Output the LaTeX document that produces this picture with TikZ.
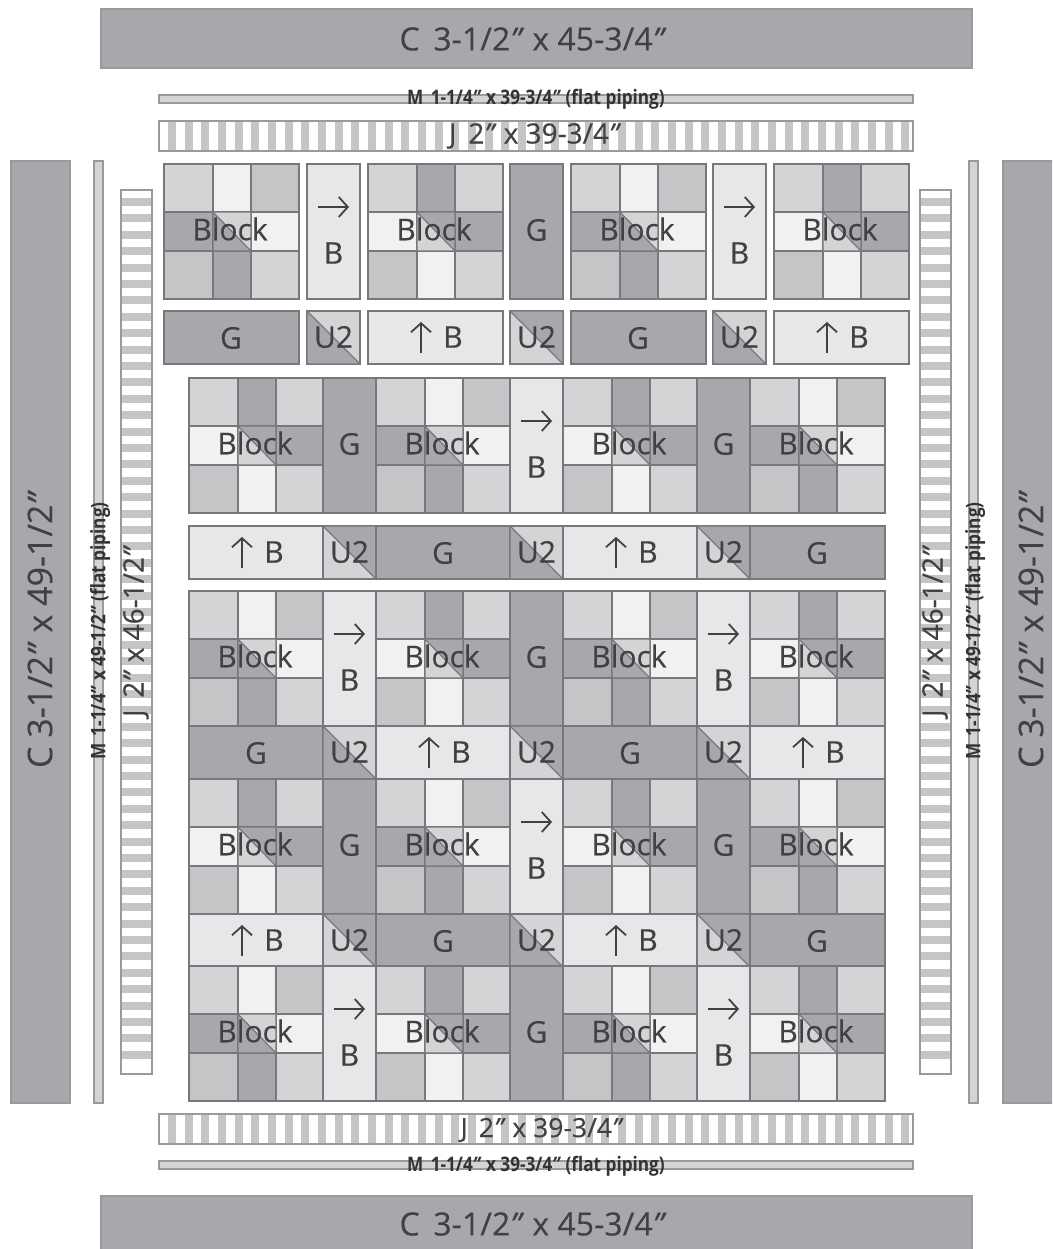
\documentclass[tikz,border=0pt]{standalone}
\usepackage{fontspec}
\setmainfont{Open Sans}
\usetikzlibrary{arrows.meta}
\definecolor{dk}{HTML}{A7A8AB}
\definecolor{md}{HTML}{C4C5C7}
\definecolor{lt}{HTML}{D3D4D6}
\definecolor{wh}{HTML}{F1F1F2}
\definecolor{sh}{HTML}{E6E7E8}
\definecolor{edge}{HTML}{77787B}
\definecolor{ink}{HTML}{414144}
\newcommand{\inch}{\textit{"}}
\newcommand{\thin}[1]{\scalebox{.86}[1]{\bfseries #1}}
\newcommand{\fsize}[1]{\fontsize{#1}{#1}\selectfont\addfontfeature{FakeBold=0.25}}
\tikzset{
  patch/.style={draw=edge, line width=1.1pt},
  rim/.style={draw=edge!75, line width=1.1pt},
  lab/.style={text=ink, inner sep=0pt, font=\fsize{30}},
  slab/.style={text=black!80, inner sep=0pt, font=\fontsize{20}{20}\selectfont},
  arw/.style={-{Straight Barb[length=9pt,width=20pt,line width=1.8pt]}, line width=1.8pt, draw=ink},
  blockA/.pic={
    \foreach \xa/\ya/\xb/\yb/\col in {0/0/49/48/lt,49/0/87/48/wh,87/0/135/48/md,0/48/49/87/dk,
      87/48/135/87/wh,0/87/49/135/md,49/87/87/135/dk,87/87/135/135/lt}
      \draw[patch, fill=\col] (\xa,\ya) rectangle (\xb,\yb);
    \draw[patch, fill=dk] (49,48) -- (87,87) -- (49,87) -- cycle;
    \draw[patch, fill=lt] (49,48) -- (87,87) -- (87,48) -- cycle;
    \node[lab] (lbl) at (66,65) {Block};
  },
  blockB/.pic={
    \foreach \xa/\ya/\xb/\yb/\col in {0/0/49/48/lt,49/0/87/48/dk,87/0/135/48/lt,0/48/49/87/wh,
      87/48/135/87/dk,0/87/49/135/md,49/87/87/135/wh,87/87/135/135/lt}
      \draw[patch, fill=\col] (\xa,\ya) rectangle (\xb,\yb);
    \draw[patch, fill=lt] (49,48) -- (87,87) -- (49,87) -- cycle;
    \draw[patch, fill=dk] (49,48) -- (87,87) -- (87,48) -- cycle;
    \node[lab] (lbl) at (66,65) {Block};
  },
  sashG/.pic={
    \draw[patch, fill=dk] (0,0) rectangle (53,135);
    \node[lab] (lbl) at (26.5,66) {G};
  },
  sashB/.pic={
    \draw[patch, fill=sh] (0,0) rectangle (53,135);
    \coordinate (s) at (11,43);
    \coordinate (e) at (42,43);
    \draw[arw] (s) -- (e);
    \node[lab] (lbl) at (26.5,89) {B};
  },
  stripG/.pic={
    \draw[patch, fill=dk] (0,0) rectangle (135,53);
    \node[lab] (lbl) at (67,27) {G};
  },
  stripB/.pic={
    \draw[patch, fill=sh] (0,0) rectangle (135,53);
    \coordinate (s) at (53,42);
    \coordinate (e) at (53,11);
    \draw[arw] (s) -- (e);
    \node[lab] (lbl) at (85,26) {B};
  },
  cornerL/.pic={
    \draw[patch, fill=lt] (0,0) rectangle (53,53);
    \draw[patch, fill=dk] (0,0) -- (53,53) -- (0,53) -- cycle;
    \node[lab] (lbl) at (26.5,26) {U2};
  },
  cornerR/.pic={
    \draw[patch, fill=lt] (0,0) rectangle (53,53);
    \draw[patch, fill=dk] (0,0) -- (53,53) -- (53,0) -- cycle;
    \node[lab] (lbl) at (26.5,26) {U2};
  }
}
% y, then the seven pieces of the row
\newcommand{\toprow}[8]{
  \pic (a#1) at (164,#1) {#2};
  \pic (b#1) at (307,#1) {#3};
  \pic (c#1) at (368,#1) {#4};
  \pic (d#1) at (510,#1) {#5};
  \pic (e#1) at (571,#1) {#6};
  \pic (f#1) at (713,#1) {#7};
  \pic (g#1) at (774,#1) {#8};
}
\newcommand{\lowrow}[8]{
  \pic (a#1) at (189,#1) {#2};
  \pic (b#1) at (323,#1) {#3};
  \pic (c#1) at (376,#1) {#4};
  \pic (d#1) at (510,#1) {#5};
  \pic (e#1) at (563,#1) {#6};
  \pic (f#1) at (697,#1) {#7};
  \pic (g#1) at (750,#1) {#8};
}
\begin{document}
\begin{tikzpicture}[x=1pt,y=-1pt]
\clip (0,0) rectangle (1052,1249);
\fill[white] (0,0) rectangle (1052,1249);
% wide outer border
\draw[rim, fill=dk] (101,9) rectangle (972,68);
\draw[rim, fill=dk] (101,1196) rectangle (972,1260);
\draw[rim, fill=dk] (11,161) rectangle (70,1103);
\draw[rim, fill=dk] (1003,161) rectangle (1060,1103);
\node[lab, font=\fsize{32}] (ctop) at (533,39) {C\, 3-1/2\inch{} x 45-3/4\inch};
\node[lab, font=\fsize{32}] (cbot) at (533,1224) {C\, 3-1/2\inch{} x 45-3/4\inch};
\node[lab, font=\fsize{34}, rotate=90] (cleft) at (40,629) {C 3-1/2\inch{} x 49-1/2\inch};
\node[lab, font=\fsize{34}, rotate=90] (cright) at (1031,629) {C 3-1/2\inch{} x 49-1/2\inch};
% piping
\draw[rim, fill=lt] (159,95) rectangle (913,103);
\draw[rim, fill=lt] (159,1161) rectangle (913,1169);
\draw[rim, fill=lt] (94,161) rectangle (103,1103);
\draw[rim, fill=lt] (969,161) rectangle (978,1103);
\node[slab] (mtop) at (536,99) {\thin{M\, 1-1/4\inch{} x 39-3/4\inch{} (flat piping)}};
\node[slab] (mbot) at (536,1166) {\thin{M\, 1-1/4\inch{} x 39-3/4\inch{} (flat piping)}};
\node[slab, rotate=90] (mleft) at (100,631) {\thin{M\, 1-1/4\inch{} x 49-1/2\inch{} (flat piping)}};
\node[slab, rotate=90] (mright) at (975,631) {\thin{M\, 1-1/4\inch{} x 49-1/2\inch{} (flat piping)}};
% striped border
\draw[rim, fill=white] (159,121) rectangle (913,151);
\draw[rim, fill=white] (159,1114) rectangle (913,1144);
\draw[rim, fill=white] (121,190) rectangle (152,1074);
\draw[rim, fill=white] (920,190) rectangle (951,1074);
\foreach \px in {168,184.67,...,905} {
  \fill[md] (\px,122) rectangle (\px+8,150);
  \fill[md] (\px,1115) rectangle (\px+8,1143);
}
\foreach \py in {198,214.4,...,1066} {
  \fill[md] (122,\py) rectangle (151,\py+8);
  \fill[md] (921,\py) rectangle (950,\py+8);
}
\node[lab, font=\fsize{28}] (jtop) at (535,136) {J\, 2\inch{} x 39-3/4\inch};
\node[lab, font=\fsize{26.5}] (jbot) at (542,1130) {J\, 2\inch{} x 39-3/4\inch};
\node[lab, font=\fsize{28}, rotate=90] (jleft) at (136,631) {J\, 2\inch{} x 46-1/2\inch};
\node[lab, font=\fsize{28}, rotate=90] (jright) at (935,631) {J\, 2\inch{} x 46-1/2\inch};
% rows of the top group
\toprow{164}{blockA}{sashB}{blockB}{sashG}{blockA}{sashB}{blockB}
\toprow{311}{stripG}{cornerL}{stripB}{cornerR}{stripG}{cornerL}{stripB}
% rows of the lower group
\lowrow{378}{blockB}{sashG}{blockA}{sashB}{blockB}{sashG}{blockA}
\lowrow{526}{stripB}{cornerR}{stripG}{cornerL}{stripB}{cornerR}{stripG}
\lowrow{591}{blockA}{sashB}{blockB}{sashG}{blockA}{sashB}{blockB}
\lowrow{726}{stripG}{cornerL}{stripB}{cornerR}{stripG}{cornerL}{stripB}
\lowrow{779}{blockB}{sashG}{blockA}{sashB}{blockB}{sashG}{blockA}
\lowrow{914}{stripB}{cornerR}{stripG}{cornerL}{stripB}{cornerR}{stripG}
\lowrow{966}{blockA}{sashB}{blockB}{sashG}{blockA}{sashB}{blockB}
\end{tikzpicture}
\end{document}
